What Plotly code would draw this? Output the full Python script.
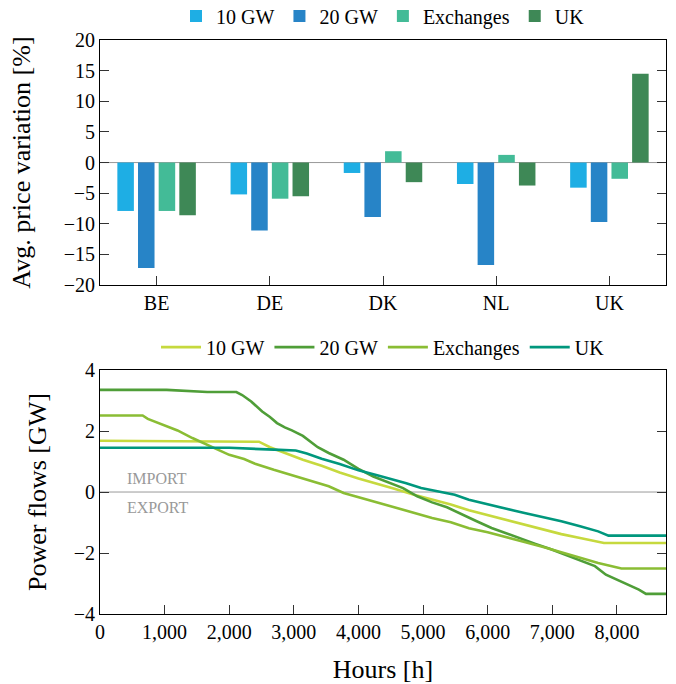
import plotly.graph_objects as go

countries = ["BE", "DE", "DK", "NL", "UK"]
bar_10gw = [-7.9, -5.2, -1.7, -3.5, -4.1]
bar_20gw = [-17.2, -11.1, -8.9, -16.7, -9.7]
bar_exch = [-7.9, -5.9, 1.85, 1.25, -2.65]
bar_uk = [-8.6, -5.5, -3.2, -3.75, 14.5]

h_10gw = [0, 1500, 2000, 2460, 2630, 2860, 3140, 3430, 3710, 4000, 4290, 4570, 4860, 5140, 5430, 5710, 6000, 6290, 6570, 6860, 7140, 7430, 7800, 8760]
v_10gw = [1.68, 1.67, 1.65, 1.65, 1.47, 1.28, 1.06, 0.86, 0.64, 0.44, 0.27, 0.10, -0.09, -0.25, -0.41, -0.60, -0.76, -0.91, -1.07, -1.21, -1.38, -1.51, -1.67, -1.67]

h_20gw = [0, 1030, 1660, 2110, 2200, 2340, 2510, 2630, 2740, 2860, 2970, 3140, 3370, 3540, 3770, 4000, 4230, 4460, 4690, 4910, 5140, 5370, 5600, 5830, 6060, 6290, 6510, 6740, 6970, 7200, 7430, 7660, 7830, 8110, 8340, 8450, 8760]
v_20gw = [3.35, 3.35, 3.28, 3.28, 3.18, 2.97, 2.64, 2.46, 2.26, 2.12, 2.02, 1.84, 1.47, 1.28, 1.06, 0.76, 0.51, 0.32, 0.13, -0.14, -0.34, -0.50, -0.74, -0.96, -1.18, -1.36, -1.54, -1.70, -1.87, -2.05, -2.25, -2.43, -2.71, -2.98, -3.20, -3.34, -3.34]

h_exch = [0, 660, 740, 940, 1200, 1430, 1710, 2000, 2230, 2400, 2690, 2970, 3260, 3540, 3770, 4000, 4290, 4570, 4860, 5140, 5430, 5710, 6000, 6290, 6570, 6860, 7140, 7430, 7710, 8070, 8760]
v_exch = [2.51, 2.51, 2.40, 2.24, 2.02, 1.77, 1.50, 1.22, 1.08, 0.93, 0.73, 0.55, 0.35, 0.19, -0.03, -0.17, -0.34, -0.52, -0.69, -0.85, -0.99, -1.19, -1.32, -1.47, -1.64, -1.80, -1.98, -2.17, -2.33, -2.51, -2.51]

h_uk = [0, 2000, 2690, 3030, 3200, 3430, 3710, 4000, 4290, 4570, 4740, 4970, 5260, 5490, 5710, 6000, 6290, 6570, 6860, 7140, 7430, 7710, 7870, 8760]
v_uk = [1.45, 1.45, 1.39, 1.36, 1.26, 1.09, 0.92, 0.71, 0.55, 0.40, 0.29, 0.13, 0.02, -0.09, -0.25, -0.41, -0.55, -0.69, -0.82, -0.96, -1.12, -1.29, -1.43, -1.43]

bar_names = ["10 GW", "20 GW", "Exchanges", "UK"]
bar_colors = ["#1eaee4", "#2784c7", "#43bb97", "#3e8856"]
line_colors = ["#c6d93e", "#4f9e38", "#8abd34", "#00977d"]

FONT = "Liberation Serif, Times New Roman, Times, serif"

fig = go.Figure()
for name, vals, col in zip(bar_names, [bar_10gw, bar_20gw, bar_exch, bar_uk], bar_colors):
    fig.add_trace(go.Bar(x=countries, y=vals, name=name, marker=dict(color=col, line=dict(width=0)),
                         xaxis="x", yaxis="y", legend="legend"))

for name, hx, vy, col in zip(bar_names, [h_10gw, h_20gw, h_exch, h_uk], [v_10gw, v_20gw, v_exch, v_uk], line_colors):
    fig.add_trace(go.Scatter(x=hx, y=vy, name=name, mode="lines", line=dict(color=col, width=2.6),
                             xaxis="x2", yaxis="y2", legend="legend2"))

axis_common = dict(showline=True, linecolor="black", linewidth=1, ticks="inside",
                   ticklen=9, tickcolor="#333", showgrid=False, zeroline=False,
                   tickfont=dict(family=FONT, size=20, color="black"))

fig.update_layout(
    width=676, height=684,
    margin=dict(l=100, r=10, t=40, b=70, autoexpand=False),
    paper_bgcolor="white", plot_bgcolor="white",
    font=dict(family=FONT, color="black"),
    barmode="group", bargap=0.27, bargroupgap=0.2,
    xaxis=dict(**axis_common, mirror=True, domain=[0, 1], anchor="y", type="category",
               range=[-0.5, 4.5]),
    yaxis=dict(**axis_common, mirror="ticks", domain=[0.573, 1], anchor="x", range=[-20, 20],
               tickvals=[-20, -15, -10, -5, 0, 5, 10, 15, 20],
               title=dict(text="Avg. price variation [%]", font=dict(family=FONT, size=26), standoff=25)),
    xaxis2=dict(**axis_common, mirror=True, domain=[0, 1], anchor="y2", range=[0, 8760],
                tickvals=[0, 1000, 2000, 3000, 4000, 5000, 6000, 7000, 8000], tickformat=",d",
                title=dict(text="Hours [h]", font=dict(family=FONT, size=26), standoff=22)),
    yaxis2=dict(**axis_common, mirror="ticks", domain=[0, 0.425], anchor="x2", range=[-4, 4],
                tickvals=[-4, -2, 0, 2, 4],
                title=dict(text="Power flows [GW]", font=dict(family=FONT, size=26), standoff=19)),
    legend=dict(orientation="h", x=0.5, xanchor="center", y=1.042, yanchor="middle",
                font=dict(family=FONT, size=20), itemwidth=30, bgcolor="rgba(0,0,0,0)",
                traceorder="normal"),
    legend2=dict(orientation="h", x=0.5, xanchor="center", y=0.465, yanchor="middle",
                 font=dict(family=FONT, size=20), itemwidth=40, bgcolor="rgba(0,0,0,0)",
                 traceorder="normal"),
    showlegend=True,
)

# zero reference lines
fig.add_shape(type="line", xref="x domain", yref="y", x0=0, x1=1, y0=0, y1=0,
              line=dict(color="#999", width=1), layer="below")
fig.add_shape(type="line", xref="x2 domain", yref="y2", x0=0, x1=1, y0=0, y1=0,
              line=dict(color="#999", width=1), layer="below")

fig.add_annotation(x=384, y=0.43, xref="x2", yref="y2", text="IMPORT", showarrow=False,
                   xanchor="left", font=dict(family=FONT, size=16, color="#999"))
fig.add_annotation(x=384, y=-0.52, xref="x2", yref="y2", text="EXPORT", showarrow=False,
                   xanchor="left", font=dict(family=FONT, size=16, color="#999"))

fig.write_html("out.html", config={"displayModeBar": False},
               post_script="document.body.style.margin='0';document.body.style.overflow='hidden';")
